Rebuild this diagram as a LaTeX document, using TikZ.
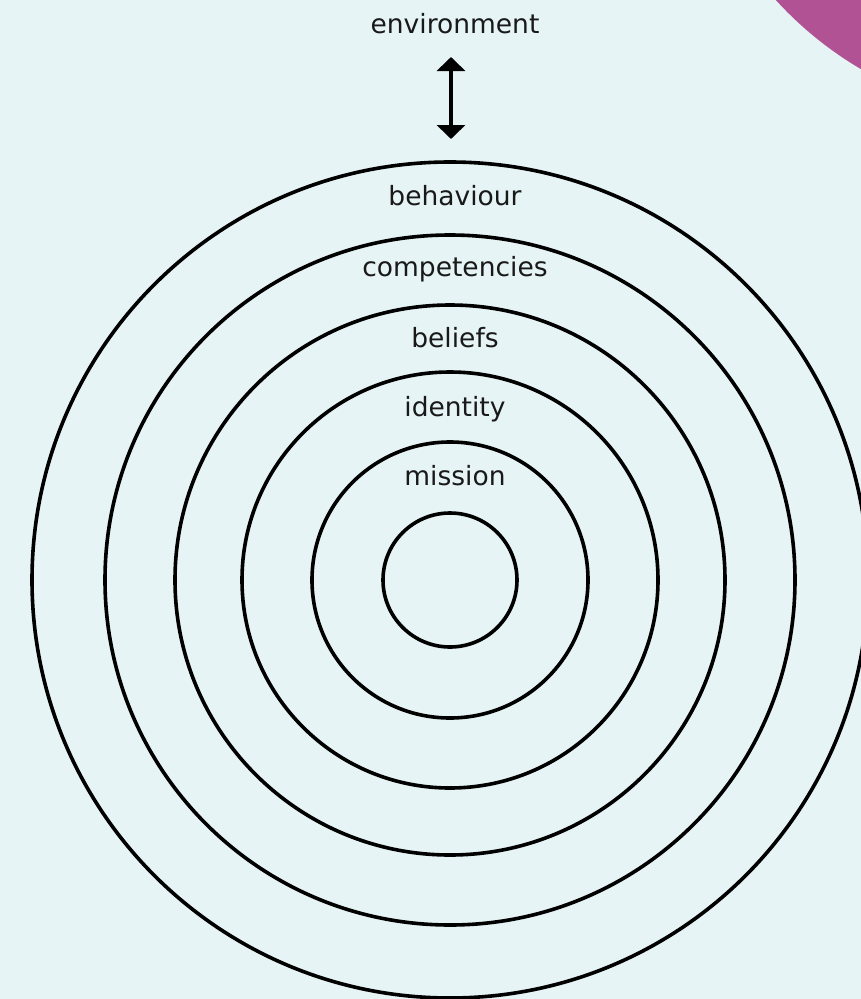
\documentclass[tikz,border=0pt]{standalone}
\usepackage{fontspec}
\setmainfont{DejaVu Sans}
\usetikzlibrary{arrows.meta}
\definecolor{bgc}{HTML}{E6F4F5}
\definecolor{purp}{HTML}{B05294}
\tikzset{
  ring/.style={draw=black, line width=3.6pt},
  lbl/.style={font=\fontsize{26.5}{30}\selectfont, text=black!90, inner sep=0pt, anchor=base},
}
\begin{document}
\begin{tikzpicture}[x=1pt,y=-1pt]
\fill[bgc] (0,0) rectangle (861,999);
\useasboundingbox (0,0) rectangle (861,999);
\begin{scope}
\clip (0,0) rectangle (861,999);
\fill[purp] (1045,-245) circle (364);
\end{scope}
\coordinate (c) at (450,580);
\foreach \r/\n in {418/r1,345/r2,275/r3,208/r4,138/r5,67/r6}{
  \draw[ring] (c) circle (\r);
}
\node[lbl] (env) at (455,33) {environment};
\node[lbl] (beh) at (455,205) {behaviour};
\node[lbl] (comp) at (455,276) {competencies};
\node[lbl] (bel) at (455,347) {beliefs};
\node[lbl] (ide) at (455,416) {identity};
\node[lbl] (mis) at (455,485) {mission};
\coordinate (a1) at (451,57);
\coordinate (a2) at (451,139);
\draw[line width=3.6pt, {Triangle[length=14pt,width=28pt]}-{Triangle[length=14pt,width=28pt]}] (a1) -- (a2);
\end{tikzpicture}
\end{document}
